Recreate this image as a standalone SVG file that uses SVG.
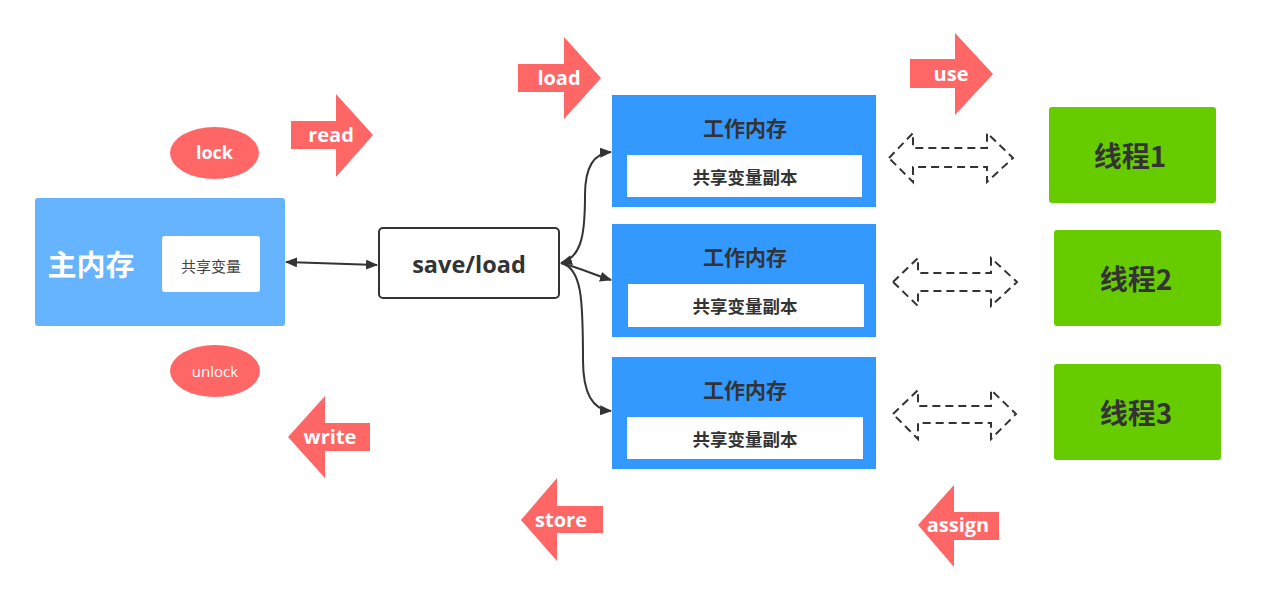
<svg xmlns="http://www.w3.org/2000/svg" width="1283" height="599" viewBox="0 0 1283 599">
<defs>
<style>
.red{fill:#ff6666}
.lbl{font-family:"Open Sans","Noto Sans CJK SC",sans-serif;font-weight:700;fill:#fff;text-anchor:middle;dominant-baseline:central}
.cjk{font-family:"Noto Sans CJK SC","Noto Sans",sans-serif;text-anchor:middle;dominant-baseline:central;fill:#333}
.work{fill:#3399ff}
.inner{fill:#fff}
.thread{fill:#66cc00}
.title{font-size:21px;font-weight:700}
.copy{font-size:17.5px;font-weight:700}
.tname{font-size:28px;font-weight:700}
.dash{fill:#fff;stroke:#333;stroke-width:2;stroke-dasharray:8 5}
.conn{fill:none;stroke:#333;stroke-width:2}
</style>
<marker id="ah" viewBox="0 0 12 10" refX="11" refY="5" markerWidth="12" markerHeight="10" markerUnits="userSpaceOnUse" orient="auto-start-reverse">
<path d="M0,0 L12,5 L0,10 Z" fill="#333"/>
</marker>
</defs>
<rect width="1283" height="599" fill="#fff"/>

<g id="main-memory">
<rect x="35" y="198" width="250" height="128" rx="3" fill="#66b3ff"/>
<rect x="162" y="236" width="98" height="56" rx="3" class="inner"/>
<text x="91" y="263" class="cjk" style="font-size:29px;font-weight:700;fill:#fff">主内存</text>
<text x="211" y="265" class="cjk" style="font-size:15px;fill:#444">共享变量</text>
</g>

<g id="lock">
<ellipse cx="214.5" cy="153" rx="44.5" ry="26" class="red"/>
<text x="214.5" y="152" class="lbl" style="font-size:18px">lock</text>
</g>
<g id="unlock">
<ellipse cx="215" cy="371" rx="45" ry="26" class="red"/>
<text x="215" y="371" class="lbl" style="font-size:15px;font-weight:400">unlock</text>
</g>

<g id="read">
<polygon points="291,121 336,121 336,94 373,135 336,177 336,149 291,149" class="red"/>
<text x="331" y="134" class="lbl" style="font-size:20px">read</text>
</g>
<g id="write">
<polygon points="288,437 325,396 325,423 370,423 370,451 325,451 325,478" class="red"/>
<text x="330" y="436" class="lbl" style="font-size:20px">write</text>
</g>
<g id="load">
<polygon points="518,64 564,64 564,37 601,78 564,119 564,92 518,92" class="red"/>
<text x="559" y="77" class="lbl" style="font-size:20px">load</text>
</g>
<g id="store">
<polygon points="521,520 557,478 557,506 603,506 603,533 557,533 557,561" class="red"/>
<text x="561" y="519" class="lbl" style="font-size:20px">store</text>
</g>
<g id="use">
<polygon points="910,59 955,59 955,33 993,74 955,115 955,88 910,88" class="red"/>
<text x="951" y="73" class="lbl" style="font-size:20px">use</text>
</g>
<g id="assign">
<polygon points="918,525 954,485 954,512 999,512 999,540 954,540 954,567" class="red"/>
<text x="958" y="524" class="lbl" style="font-size:20px">assign</text>
</g>

<g id="save-load">
<rect x="379" y="228" width="180" height="70" rx="4" fill="#fff" stroke="#333" stroke-width="2"/>
<text x="469" y="264" class="lbl" style="font-size:23.5px;fill:#333">save/load</text>
</g>

<g id="work-memory-1">
<rect x="612" y="95" width="264" height="112" class="work"/>
<rect x="627" y="155" width="235" height="42" class="inner"/>
<text x="745" y="127" class="cjk title">工作内存</text>
<text x="745" y="176" class="cjk copy">共享变量副本</text>
</g>
<g id="work-memory-2">
<rect x="612" y="224" width="264" height="113" class="work"/>
<rect x="628" y="284" width="236" height="43" class="inner"/>
<text x="745" y="256" class="cjk title">工作内存</text>
<text x="745" y="305" class="cjk copy">共享变量副本</text>
</g>
<g id="work-memory-3">
<rect x="612" y="357" width="264" height="112" class="work"/>
<rect x="627" y="417" width="236" height="42" class="inner"/>
<text x="745" y="389" class="cjk title">工作内存</text>
<text x="745" y="438" class="cjk copy">共享变量副本</text>
</g>

<g id="thread-1">
<rect x="1049" y="107" width="167" height="96" rx="3" class="thread"/>
<text x="1130" y="155" class="cjk tname">线程1</text>
</g>
<g id="thread-2">
<rect x="1054" y="230" width="167" height="96" rx="3" class="thread"/>
<text x="1136" y="278" class="cjk tname">线程2</text>
</g>
<g id="thread-3">
<rect x="1054" y="364" width="167" height="96" rx="3" class="thread"/>
<text x="1136" y="412" class="cjk tname">线程3</text>
</g>

<g id="connectors">
<path d="M286,262 L377,265" class="conn" marker-start="url(#ah)" marker-end="url(#ah)"/>
<path d="M561,263 C583,257 585,230 585,195 C585,165 595,153 611,152" class="conn" marker-start="url(#ah)" marker-end="url(#ah)"/>
<path d="M561,263 C580,268 595,275 611,280" class="conn" marker-end="url(#ah)"/>
<path d="M561,263 C582,268 583,300 583,360 C583,398 595,410 611,411" class="conn" marker-end="url(#ah)"/>
<polygon points="889,158 913,133 913,148 987,148 987,133 1013,158 987,182 987,167 913,167 913,182" class="dash"/>
<polygon points="893,282 918,258 918,273 991,273 991,258 1017,282 991,306 991,291 918,291 918,306" class="dash"/>
<polygon points="893,414 918,390 918,406 991,406 991,390 1016,414 991,439 991,423 918,423 918,439" class="dash"/>
</g>
</svg>
